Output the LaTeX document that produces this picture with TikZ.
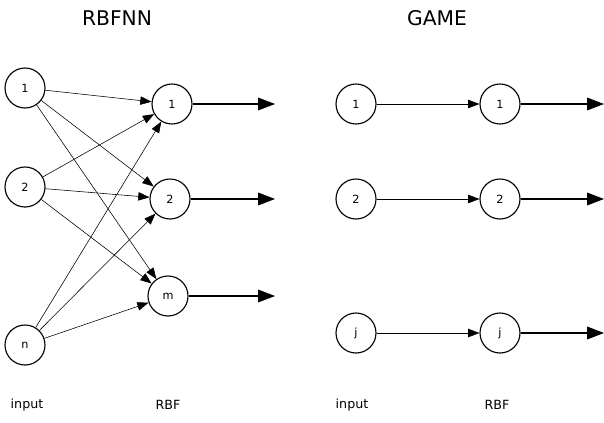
\documentclass[tikz,border=0pt]{standalone}
\usepackage{fontspec}
\setmainfont{DejaVu Sans}
\usetikzlibrary{arrows.meta}
\begin{document}
\begin{tikzpicture}[
        x=0.025cm, y=-0.025cm,
        neuron/.style={circle, draw, thick, minimum size=1cm, inner sep=0pt, font=\footnotesize},
        link/.style={-{Triangle[length=8pt,width=6pt]}},
        output/.style={thick, -{Triangle[length=12pt,width=9pt]}},
        caption/.style={font=\small}
    ]
    \useasboundingbox (0,0) rectangle (604,422);

    % Titles
    \node[font=\Large] (t1) at (117,18) {RBFNN};
    \node[font=\Large] (t2) at (437,18) {GAME};

    % RBFNN layers
    \foreach \n/\t/\y in {i1/1/88, i2/2/187, in/n/345} {
        \node[neuron] (\n) at (25,\y) {\t};
    }
    \foreach \n/\t/\x/\y in {r1/1/172/104, r2/2/170/199, rm/m/168/296} {
        \node[neuron] (\n) at (\x,\y) {\t};
        \coordinate (o\n) at (275,\y);
        \draw[output] (\n) -- (o\n);
    }
    \foreach \a in {i1, i2, in} {
        \foreach \b in {r1, r2, rm} {
            \draw[link] (\a) -- (\b);
        }
    }

    % GAME units
    \foreach \k/\t/\y in {1/1/104, 2/2/199, 3/j/333} {
        \node[neuron] (g\k) at (356,\y) {\t};
        \node[neuron] (h\k) at (500,\y) {\t};
        \coordinate (p\k) at (604,\y);
        \draw[link] (g\k) -- (h\k);
        \draw[output] (h\k) -- (p\k);
    }

    % Axis labels
    \node[caption] (l1) at (27,405) {input};
    \node[caption] (l2) at (168,405) {RBF};
    \node[caption] (l3) at (352,405) {input};
    \node[caption] (l4) at (497,405) {RBF};
\end{tikzpicture}
\end{document}
